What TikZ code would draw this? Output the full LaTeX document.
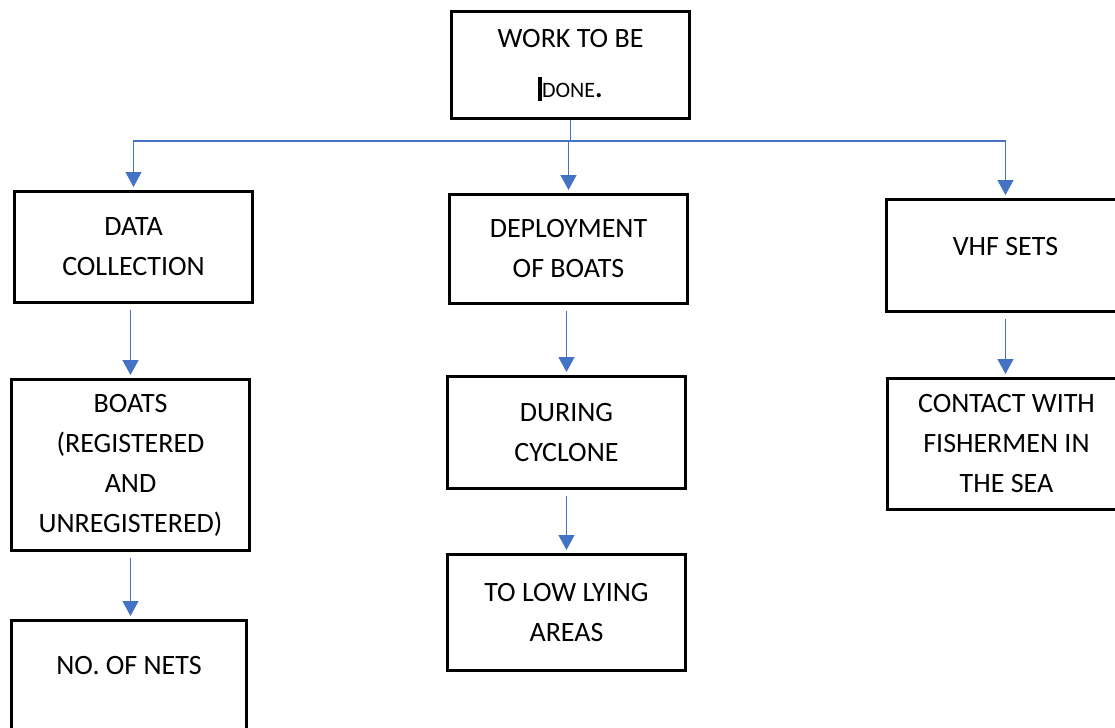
\documentclass[tikz,border=0pt]{standalone}
\usepackage{fontspec}
\setmainfont{Carlito}
\usetikzlibrary{arrows.meta, positioning}
\definecolor{linkblue}{RGB}{68,114,196}

\begin{document}
\begin{tikzpicture}[x=0.5pt, y=-0.5pt]
		\tikzset{
			box/.style={rectangle, draw=black, line width=1.5pt, minimum width=119pt, anchor=north west, align=center, inner sep=0pt, font=\fontsize{14}{20}\selectfont},
			link/.style={draw=linkblue, line width=0.7pt},
			flow/.style={link, -{Triangle[width=8pt, length=7.5pt]}, shorten >=1.5pt, shorten <=3pt}
		}
		\useasboundingbox (0,0) rectangle (1115,728);

		\node[box, minimum height=53.5pt] (work) at (450,10) {WORK TO BE\\[5pt]\rule[-1.5pt]{1.8pt}{12pt}{\fontsize{11}{13}\selectfont DONE}\textbf{.}};

		\node[box, minimum height=55.5pt] (data) at (13,190) {DATA\\COLLECTION};
		\node[box, minimum height=54.5pt] (deploy) at (448,193) {DEPLOYMENT\\OF BOATS};
		\node[box, minimum height=56pt] (vhf) at (885,198) {VHF SETS\\[-11pt]};

		\node[box, minimum height=85.5pt] (boats) at (10,378) {BOATS\\(REGISTERED\\AND\\UNREGISTERED)};
		\node[box, minimum height=56pt] (cyclone) at (446,375) {DURING\\CYCLONE};
		\node[box, minimum height=65.5pt] (contact) at (886,377) {CONTACT WITH\\FISHERMEN IN\\THE SEA};

		\node[box, minimum height=58pt] (lowlying) at (446,553) {TO LOW LYING\\AREAS};
		\node[box, minimum width=117.5pt, minimum height=60pt] (nets) at (10,619) {NO. OF NETS\\[-5pt]};

		% top split
		\coordinate[below=10.5pt of work.south] (split);
		\draw[link] (work) -- (split);
		\draw[flow, shorten <=0pt] (split) -| (data);
		\draw[flow, shorten <=0pt] (split) -| (deploy);
		\draw[flow, shorten <=0pt] (split) -| (vhf);

		\draw[flow] (boats.north |- data.south) -- (boats.north);
		\draw[flow] (boats.south) -- (boats.south |- nets.north);
		\draw[flow] (cyclone.north |- deploy.south) -- (cyclone.north);
		\draw[flow] (cyclone.south) -- (lowlying.north);
		\draw[flow] (vhf.south) -- (vhf.south |- contact.north);
	\end{tikzpicture}
\end{document}
